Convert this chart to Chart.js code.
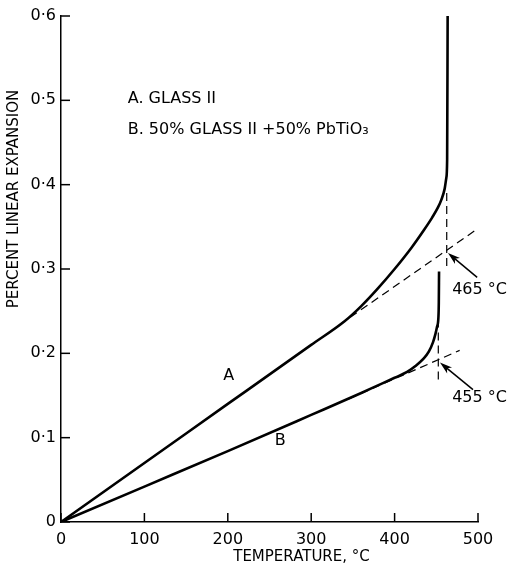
<!DOCTYPE html>
<html>
<head>
<meta charset="utf-8">
<script src="https://cdn.jsdelivr.net/npm/chart.js@4.4.1/dist/chart.umd.min.js"></script>
<style>
  html, body { margin: 0; padding: 0; background: #fff; }
  canvas { display: block; }
</style>
</head>
<body>
<canvas id="myChart" width="507" height="569"></canvas>
<script>
// curve A : glass II
var tempA = [0, 100, 200, 300, 340, 360, 380, 400, 420, 435, 445, 452, 456, 460, 462, 463, 463.6];
var expA  = [0, 0.070, 0.140, 0.210, 0.238, 0.256, 0.277, 0.300, 0.325, 0.346, 0.361, 0.373, 0.382, 0.395, 0.408, 0.43, 0.6];

// curve B : 50% glass II + 50% PbTiO3
var tempB = [0, 100, 200, 300, 360, 380, 400, 415, 425, 435, 441, 446, 449, 451, 452.5, 453, 453.3];
var expB  = [0, 0.042, 0.084, 0.127, 0.153, 0.162, 0.171, 0.178, 0.185, 0.194, 0.202, 0.213, 0.223, 0.232, 0.242, 0.26, 0.297];

// construction lines (dashed)
var tangentATemp = [334, 500];
var tangentAExp  = [0.234, 0.348];
var markATemp    = [462.5, 462.5];
var markAExp     = [0.39, 0.302];
var tangentBTemp = [345, 478];
var tangentBExp  = [0.146, 0.2035];
var markBTemp    = [452.4, 452.4];
var markBExp     = [0.24, 0.164];

var xTickLabels = ['0', '100', '200', '300', '400', '500'];
var yTickLabels = ['0', '0·1', '0·2', '0·3', '0·4', '0·5', '0·6'];

function pts(xs, ys) {
  return xs.map(function (t, i) { return { x: t, y: ys[i] }; });
}

var font = '"DejaVu Sans", sans-serif';

// text and arrows placed in data units
var notes = [
  { text: 'A. GLASS II', x: 80, y: 0.502, align: 'left', size: 16 },
  { text: 'B. 50% GLASS II +50% PbTiO₃', x: 80, y: 0.465, align: 'left', size: 16 },
  { text: 'A', x: 201, y: 0.173, align: 'center', size: 16 },
  { text: 'B', x: 263, y: 0.096, align: 'center', size: 16 },
  { text: '465 °C', x: 469, y: 0.2755, align: 'left', size: 16 },
  { text: '455 °C', x: 469, y: 0.1475, align: 'left', size: 16 }
];
var arrows = [
  { from: [499, 0.290], to: [464, 0.319] },
  { from: [494, 0.157], to: [454.4, 0.189] }
];

var annotate = {
  id: 'annotate',
  afterDraw: function (chart) {
    var ctx = chart.ctx;
    var x = chart.scales.x, y = chart.scales.y;
    var area = chart.chartArea;
    ctx.save();
    ctx.strokeStyle = '#000';
    ctx.fillStyle = '#000';
    ctx.lineWidth = 1.5;

    // inward tick marks
    x.ticks.forEach(function (t) {
      var px = x.getPixelForValue(t.value);
      ctx.beginPath();
      ctx.moveTo(px, area.bottom);
      ctx.lineTo(px, area.bottom - 9);
      ctx.stroke();
    });
    y.ticks.forEach(function (t) {
      var py = y.getPixelForValue(t.value);
      ctx.beginPath();
      ctx.moveTo(area.left, py);
      ctx.lineTo(area.left + 9, py);
      ctx.stroke();
    });

    // notes
    ctx.textBaseline = 'middle';
    notes.forEach(function (n) {
      ctx.font = n.size + 'px ' + font;
      ctx.textAlign = n.align;
      ctx.fillText(n.text, x.getPixelForValue(n.x), y.getPixelForValue(n.y));
    });

    // arrows
    ctx.lineWidth = 1.5;
    arrows.forEach(function (a) {
      var x0 = x.getPixelForValue(a.from[0]), y0 = y.getPixelForValue(a.from[1]);
      var x1 = x.getPixelForValue(a.to[0]), y1 = y.getPixelForValue(a.to[1]);
      var ang = Math.atan2(y1 - y0, x1 - x0);
      ctx.beginPath();
      ctx.moveTo(x0, y0);
      ctx.lineTo(x1 - 6 * Math.cos(ang), y1 - 6 * Math.sin(ang));
      ctx.stroke();
      ctx.beginPath();
      ctx.moveTo(x1, y1);
      ctx.lineTo(x1 - 13 * Math.cos(ang - 0.3), y1 - 13 * Math.sin(ang - 0.3));
      ctx.lineTo(x1 - 9 * Math.cos(ang), y1 - 9 * Math.sin(ang));
      ctx.lineTo(x1 - 13 * Math.cos(ang + 0.3), y1 - 13 * Math.sin(ang + 0.3));
      ctx.closePath();
      ctx.fill();
    });

    // axis titles
    ctx.font = '15px ' + font;
    ctx.textAlign = 'center';
    ctx.fillText('TEMPERATURE, °C', (area.left + area.right) / 2 + 32, area.bottom + 35);
    ctx.translate(14, (area.top + area.bottom) / 2 - 70);
    ctx.rotate(-Math.PI / 2);
    ctx.fillText('PERCENT LINEAR EXPANSION', 0, 0);
    ctx.restore();
  }
};

var solid = { borderColor: '#000', borderWidth: 2.6, pointRadius: 0, showLine: true, fill: false, cubicInterpolationMode: 'monotone' };
var dashed = { borderColor: '#000', borderWidth: 1.2, pointRadius: 0, showLine: true, fill: false, borderDash: [8, 5] };

var ctx = document.getElementById('myChart').getContext('2d');
var myChart = new Chart(ctx, {
    type: 'scatter',
    data: {
        datasets: [
            Object.assign({ label: 'A', data: pts(tempA, expA) }, solid),
            Object.assign({ label: 'B', data: pts(tempB, expB) }, solid),
            Object.assign({ label: 'tangent A', data: pts(tangentATemp, tangentAExp) }, dashed),
            Object.assign({ label: 'mark A', data: pts(markATemp, markAExp) }, dashed),
            Object.assign({ label: 'tangent B', data: pts(tangentBTemp, tangentBExp) }, dashed),
            Object.assign({ label: 'mark B', data: pts(markBTemp, markBExp) }, dashed)
        ]
    },
    options: {
      responsive: false,
      animation: false,
      layout: { padding: { top: 16, right: 29, left: 0, bottom: 0 } },
      plugins: {
        legend: { display: false },
        tooltip: { enabled: false }
      },
      scales: {
        x: {
          type: 'linear',
          min: 0, max: 500,
          grid: { display: false, drawTicks: false },
          border: { display: true, color: '#000', width: 1.5 },
          ticks: {
            stepSize: 100, padding: 8, color: '#000', maxRotation: 0,
            font: { family: font, size: 16 },
            callback: function (v) { return xTickLabels[Math.round(v / 100)]; }
          },
          afterFit: function (s) { s.height = 47; }
        },
        y: {
          type: 'linear',
          min: 0, max: 0.6,
          grid: { display: false, drawTicks: false },
          border: { display: true, color: '#000', width: 1.5 },
          ticks: {
            stepSize: 0.1, padding: 5, color: '#000',
            font: { family: font, size: 16 },
            callback: function (v) { return yTickLabels[Math.round(v * 10)]; }
          },
          afterFit: function (s) { s.width = 61; }
        }
      }
    },
    plugins: [annotate]
});
</script>
</body>
</html>
